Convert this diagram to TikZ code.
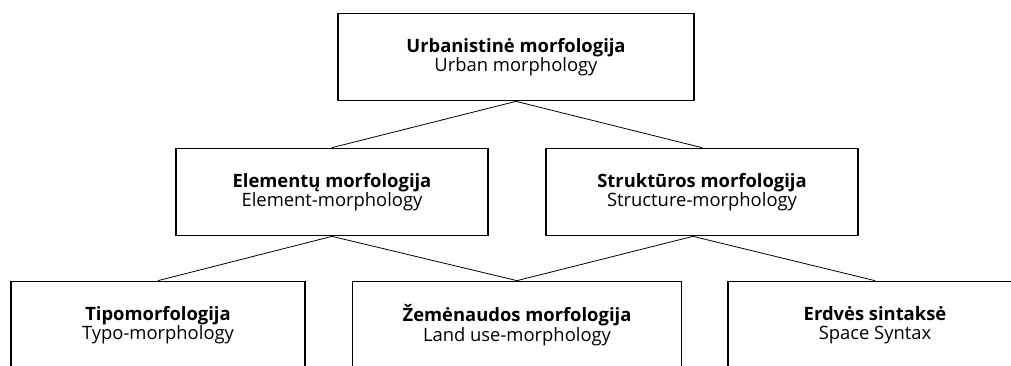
\documentclass[tikz,border=0pt]{standalone}
\usepackage{fontspec}
\setmainfont{Open Sans}
\usetikzlibrary{positioning}

\tikzset{
  morphbox/.style={draw, line width=1.7pt, align=center, inner sep=0pt,
    minimum height=87pt, font=\fontsize{18.4}{19.5}\selectfont},
  link/.style={line width=0.8pt}
}

\begin{document}
\begin{tikzpicture}[x=1pt,y=-1pt]
  % page frame, the bottom row runs off the lower edge
  \useasboundingbox (0,0) rectangle (1011,366);
  \clip (0,0) rectangle (1011,366);

  % top level
  \node[morphbox, minimum width=356pt] (urban) at (516,57) {\textbf{Urbanistinė morfologija}\\Urban morphology};

  % middle level
  \node[morphbox, minimum width=312pt] (elem) at (332,192) {\textbf{Elementų morfologija}\\Element-morphology};
  \node[morphbox, minimum width=312pt] (struct) at (702,192) {\textbf{Struktūros morfologija}\\Structure-morphology};

  % bottom level
  \node[morphbox, minimum width=294pt] (typo) at (158,325) {\textbf{Tipomorfologija}\\Typo-morphology};
  \node[morphbox, minimum width=329pt] (landuse) at (517,325) {\textbf{Žemėnaudos morfologija}\\Land use-morphology};
  \node[morphbox, minimum width=294pt] (syntax) at (875,325) {\textbf{Erdvės sintaksė}\\Space Syntax};

  % links between the levels
  \draw[link] (urban.south) to[] (elem.north);
  \draw[link] (urban.south) to[] (struct.north);
  \draw[link] (elem.south) to[] (typo.north);
  \draw[link] (elem.south) to[] (landuse.north);
  \draw[link] ([xshift=-9pt]struct.south) to[] (landuse.north);
  \draw[link] ([xshift=-9pt]struct.south) to[] (syntax.north);
\end{tikzpicture}
\end{document}
